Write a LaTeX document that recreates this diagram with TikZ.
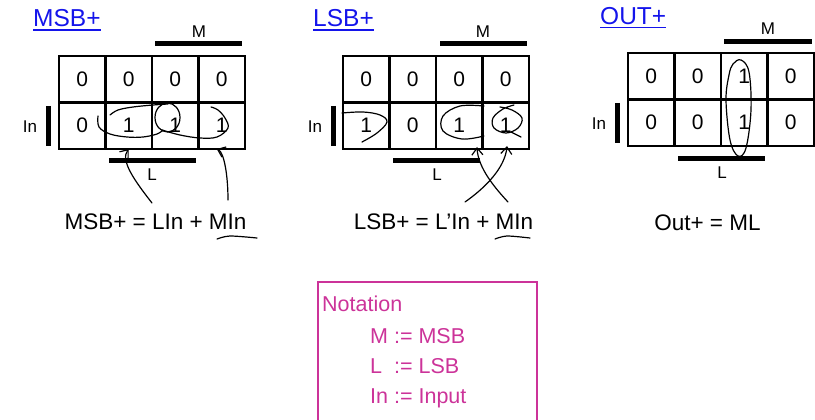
\documentclass[tikz,border=0pt]{standalone}
\usepackage{fontspec}
\setmainfont{Liberation Sans}
\usetikzlibrary{arrows.meta}
\definecolor{titleblue}{RGB}{20,20,235}
\definecolor{notepink}{RGB}{204,51,153}
\begin{document}
\begin{tikzpicture}[x=1pt,y=-1pt,
  cell/.style={draw,line width=2.5pt,minimum width=46.5pt,minimum height=46.5pt,
    inner sep=0pt,outer sep=0pt,anchor=north west,font=\fontsize{21}{25}\selectfont},
  bar/.style={line width=5pt},
  axislabel/.style={inner sep=0pt,font=\fontsize{17}{20}\selectfont},
  title/.style={inner sep=0pt,anchor=base west,text=titleblue,font=\fontsize{24.5}{28}\selectfont},
  titleline/.style={titleblue,line width=1.1pt},
  formula/.style={inner sep=0pt,anchor=base,font=\fontsize{22.5}{26}\selectfont},
  hand/.style={line width=1.2pt,line cap=round,line join=round},
  handarrow/.style={hand,-{Straight Barb[length=7pt,width=11pt]}},
  note/.style={inner sep=0pt,anchor=base west,text=notepink,font=\fontsize{21.5}{25}\selectfont}]
\useasboundingbox (0,0) rectangle (815,420);

% ---------- MSB+ map ----------
\node[title] (tmsb) at (33,27) {MSB+};
\draw[titleline] ([yshift=-3pt]tmsb.base west) -- ([yshift=-3pt]tmsb.base east);
\foreach \v [count=\i] in {0,0,0,0}
  \node[cell] (msbA\i) at ({59+46.5*(\i-1)},56) {\v};
\foreach \v [count=\i] in {0,1,1,1}
  \node[cell] (msbB\i) at ({59+46.5*(\i-1)},102.5) {\v};
\draw[bar] (155,44) -- (242,44);
\node[axislabel] (msbM) at (199,32) {M};
\draw[bar] (48,106) -- (48,146);
\node[axislabel] (msbIn) at (30,127) {In};
\draw[bar] (109,160) -- (196,160);
\node[axislabel] (msbL) at (152,175) {L};
\node[formula] (fmsb) at (155.5,229) {MSB+ = LIn + MIn};

% loops drawn by hand
\draw[hand] plot[smooth,tension=0.6] coordinates
  {(98,116) (99,127) (110,134) (127,137) (143,137) (157,134) (163,130)};
\draw[hand] plot[smooth,tension=0.6] coordinates
  {(110,115) (118,110) (133,107) (153,105) (168,104)};
\draw[hand] (167.5,117.5) ellipse [x radius=12.5, y radius=14.5];
\draw[hand] plot[smooth,tension=0.6] coordinates
  {(162,130) (180,135) (200,138) (217,137) (228,128) (225,118) (218,110) (211,107)};
\coordinate (msbS1) at (152,203);
\coordinate (msbS2) at (228,200);
\draw[handarrow] (msbS1) .. controls (134,180) and (120,160) .. (msbB2.south);
\draw[handarrow] (msbS2) .. controls (228,175) and (224,152) .. ([xshift=-5pt]msbB4.south);
\draw[hand] plot[smooth] coordinates {(217,239) (230,236) (257,238)};

% ---------- LSB+ map ----------
\node[title] (tlsb) at (313,27) {LSB+};
\draw[titleline] ([yshift=-3pt]tlsb.base west) -- ([yshift=-3pt]tlsb.base east);
\foreach \v [count=\i] in {0,0,0,0}
  \node[cell] (lsbA\i) at ({343+46.5*(\i-1)},56) {\v};
\foreach \v [count=\i] in {1,0,1,1}
  \node[cell] (lsbB\i) at ({343+46.5*(\i-1)},102.5) {\v};
\draw[bar] (440,44) -- (527,44);
\node[axislabel] (lsbM) at (483,32) {M};
\draw[bar] (333,106) -- (333,146);
\node[axislabel] (lsbIn) at (315,127) {In};
\draw[bar] (393,160) -- (480,160);
\node[axislabel] (lsbL) at (437,175) {L};
\node[formula] (flsb) at (443.5,229) {LSB+ = L'In + MIn};

\draw[hand] plot[smooth,tension=0.6] coordinates
  {(342,113) (363,112) (380,115) (387,122) (377,133) (362,142)};
\draw[hand] plot[smooth,tension=0.6] coordinates
  {(484,106) (460,106) (443,116) (443,131) (462,139) (484,136)};
\draw[hand] plot[smooth,tension=0.6] coordinates
  {(514,105) (503,109) (493,118) (494,128) (506,133) (518,128) (522,118) (512,110) (500,107)};
\draw[hand] (511,132) -- (521,137);
\coordinate (lsbS1) at (465,202);
\coordinate (lsbS2) at (508,202);
\draw[handarrow] (lsbS1) .. controls (485,188) and (505,168) .. (507,146);
\draw[handarrow] (lsbS2) .. controls (495,188) and (478,168) .. (477,147);
\draw[hand] plot[smooth] coordinates {(495,239) (507,236) (530,238)};

% ---------- OUT+ map ----------
\node[title] (tout) at (600,25) {OUT+};
\draw[titleline] ([yshift=-2.5pt]tout.base west) -- ([yshift=-2.5pt]tout.base east);
\foreach \v [count=\i] in {0,0,1,0}
  \node[cell] (outA\i) at ({628+46.5*(\i-1)},53) {\v};
\foreach \v [count=\i] in {0,0,1,0}
  \node[cell] (outB\i) at ({628+46.5*(\i-1)},99.5) {\v};
\draw[bar] (724,42) -- (812,42);
\node[axislabel] (outM) at (768,29) {M};
\draw[bar] (617,103) -- (617,143);
\node[axislabel] (outIn) at (599,124) {In};
\draw[bar] (678,158) -- (765,158);
\node[axislabel] (outL) at (722,173) {L};
\node[formula] (fout) at (707.5,230) {Out+ = ML};

\draw[hand] plot[smooth cycle,tension=0.6] coordinates
  {(733,64) (741,60) (749,72) (751,110) (746,148) (738,156) (730,140) (726,100) (729,75)};

% ---------- notation box ----------
\draw[notepink,line width=2pt] (318,425) -- (318,282) -- (537,282) -- (537,425);
\node[note] (nhead) at (322,311) {Notation};
\node[note] (nM) at (370,343) {M := MSB};
\node[note] (nL) at (370,373) {L\ \ := LSB};
\node[note] (nIn) at (370,403) {In := Input};
\end{tikzpicture}
\end{document}
